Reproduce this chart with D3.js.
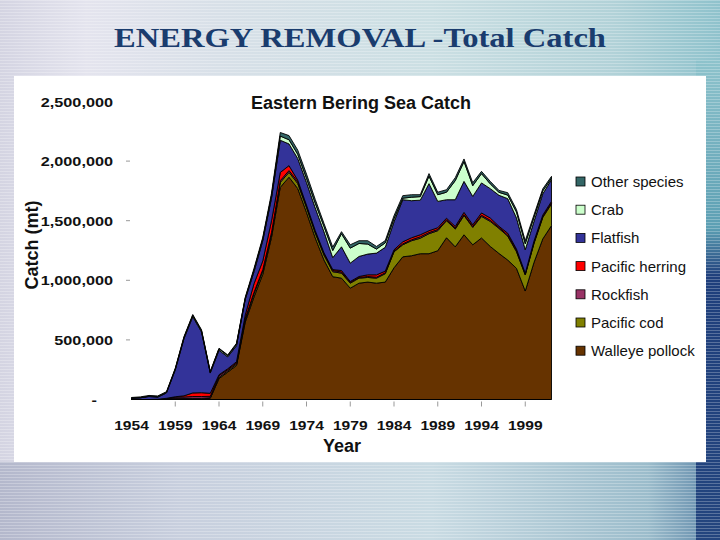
<!DOCTYPE html>
<html>
<head>
<meta charset="utf-8">
<script src="https://cdn.jsdelivr.net/npm/d3@7/dist/d3.min.js"></script>
<style>
  body { margin: 0; background: #fff; }
</style>
</head>
<body>
<div id="chart"></div>
<script type="text/javascript">
// catch in thousand metric tons
var years = [1954,1955,1956,1957,1958,1959,1960,1961,1962,1963,
             1964,1965,1966,1967,1968,1969,1970,1971,1972,1973,
             1974,1975,1976,1977,1978,1979,1980,1981,1982,1983,
             1984,1985,1986,1987,1988,1989,1990,1991,1992,1993,
             1994,1995,1996,1997,1998,1999,2000,2001,2002];

var pollock  = [0,0,0,0,3,8,5,5,5,10, 175,230,285,650,860,1050,1360,1780,1865,1770,
                1570,1355,1170,1030,1018,934,976,985,976,985, 1105,1197,1206,1223,1223,1248,1357,1281,1382,1298,
                1355,1284,1225,1170,1100,910,1150,1347,1459];
var cod      = [0,0,0,0,2,3,4,5,5,5, 10,10,12,20,28,28,27,41,41,42,
                41,42,41,42,42,42,42,39,42,70, 134,101,126,130,168,168,143,149,162,146,
                181,210,210,200,140,135,160,180,182];
var rockfish = [0,0,0,2,5,10,12,15,15,12, 15,10,10,10,12,12,15,15,15,15,
                12,12,12,10,10,6,6,8,8,8, 7,8,8,12,10,10,8,8,8,8,
                10,10,8,10,10,8,8,8,10];
var herring  = [0,0,0,0,0,2,10,30,32,25, 8,8,10,30,72,72,97,69,41,13,
                8,8,8,8,12,8,8,14,20,14, 10,17,17,17,15,15,13,14,18,14,
                19,19,10,15,12,7,12,12,11];
var flatfish = [12,14,25,18,45,225,480,640,510,170, 205,100,135,130,100,170,190,270,182,182,
                190,190,176,100,199,154,168,174,182,200, 235,353,311,290,395,221,155,224,260,238,
                252,246,260,290,261,197,165,178,183];
var crab     = [0,2,3,4,5,8,10,10,10,8, 12,10,12,10,15,14,20,35,35,35,
                35,40,45,60,110,126,109,84,34,37, 26,13,29,30,63,56,63,160,166,90,
                78,40,25,30,50,50,35,25,12];
var other    = [5,6,6,6,6,6,7,8,8,6, 5,6,8,8,13,14,22,30,35,35,
                35,31,25,29,17,28,23,28,22,19, 25,21,21,16,21,21,21,25,22,25,
                19,21,16,20,20,25,20,17,15];

var seriesKeys   = ["pollock","cod","rockfish","herring","flatfish","crab","other"];
var seriesNames  = ["Walleye pollock","Pacific cod","Rockfish","Pacific herring","Flatfish","Crab","Other species"];
var seriesColors = ["#663300","#808000","#993366","#ff0000","#333399","#ccffcc","#336666"];

var xTicks = [1954,1959,1964,1969,1974,1979,1984,1989,1994,1999];
var yTicks = [0,500,1000,1500,2000,2500];

var svg = d3.select("#chart").append("svg")
    .attr("width", 720)
    .attr("height", 540);

// --- slide background ---
var defs = svg.append("defs");
var bg = defs.append("linearGradient").attr("id", "bg").attr("x1", 0).attr("x2", 1).attr("y1", 0).attr("y2", 0);
bg.append("stop").attr("offset", 0).attr("stop-color", "#d4d4e2");
bg.append("stop").attr("offset", 0.12).attr("stop-color", "#e4e4ee");
bg.append("stop").attr("offset", 0.3).attr("stop-color", "#d8e0e8");
bg.append("stop").attr("offset", 0.6).attr("stop-color", "#cbdfe3");
bg.append("stop").attr("offset", 0.85).attr("stop-color", "#b2d2d8");
bg.append("stop").attr("offset", 1).attr("stop-color", "#8fc2cc");

var side = defs.append("linearGradient").attr("id", "side").attr("x1", 0).attr("x2", 0).attr("y1", 0).attr("y2", 1);
side.append("stop").attr("offset", 0).attr("stop-color", "#8ec3cc");
side.append("stop").attr("offset", 0.35).attr("stop-color", "#5c9fb3");
side.append("stop").attr("offset", 0.45).attr("stop-color", "#1f3f7c");
side.append("stop").attr("offset", 1).attr("stop-color", "#23457e");

var foot = defs.append("linearGradient").attr("id", "foot").attr("x1", 0).attr("x2", 1).attr("y1", 0).attr("y2", 0);
foot.append("stop").attr("offset", 0).attr("stop-color", "#b4b8cc");
foot.append("stop").attr("offset", 0.25).attr("stop-color", "#c8cfde");
foot.append("stop").attr("offset", 0.6).attr("stop-color", "#c9dbe3");
foot.append("stop").attr("offset", 0.9).attr("stop-color", "#9bbccb");
foot.append("stop").attr("offset", 1).attr("stop-color", "#5d86a8");

var stripes = defs.append("pattern").attr("id", "stripes")
    .attr("width", 4).attr("height", 3).attr("patternUnits", "userSpaceOnUse");
stripes.append("rect").attr("width", 4).attr("height", 1).attr("fill", "#ffffff").attr("opacity", 0.25);

svg.append("rect").attr("width", 720).attr("height", 540).attr("fill", "url(#bg)");
svg.append("rect").attr("x", 0).attr("y", 462).attr("width", 720).attr("height", 78).attr("fill", "url(#foot)");
svg.append("rect").attr("x", 696).attr("y", 60).attr("width", 24).attr("height", 480).attr("fill", "url(#side)");
svg.append("rect").attr("width", 720).attr("height", 540).attr("fill", "url(#stripes)");

svg.append("text")
    .attr("x", 360).attr("y", 47)
    .attr("text-anchor", "middle")
    .attr("textLength", 492).attr("lengthAdjust", "spacingAndGlyphs")
    .style("font-family", "'Liberation Serif', 'Times New Roman', serif")
    .style("font-size", "28px")
    .style("font-weight", "bold")
    .attr("fill", "#1a3c6e")
    .text("ENERGY REMOVAL -Total Catch");

// white chart panel
svg.append("rect").attr("x", 14).attr("y", 76).attr("width", 692).attr("height", 386).attr("fill", "#ffffff");

// --- chart ---
var x = d3.scaleLinear().domain([1954, 2002]).range([131.5, 551.5]);
var y = d3.scaleLinear().domain([0, 2500]).range([399.5, 101.5]);

var table = years.map(function(yr, i) {
  return { year: yr, pollock: pollock[i], cod: cod[i], rockfish: rockfish[i], herring: herring[i],
           flatfish: flatfish[i], crab: crab[i], other: other[i] };
});

var stacked = d3.stack().keys(seriesKeys)(table);

var area = d3.area()
    .x(function(d) { return x(d.data.year); })
    .y0(function(d) { return y(d[0]); })
    .y1(function(d) { return y(d[1]); });

var plot = svg.append("g");
plot.selectAll("path.layer")
    .data(stacked)
  .enter().append("path")
    .attr("class", "layer")
    .attr("d", area)
    .attr("fill", function(d, i) { return seriesColors[i]; })
    .attr("stroke", "#000")
    .attr("stroke-width", 0.9)
    .attr("stroke-linejoin", "round");

// baseline
svg.append("line")
    .attr("x1", x(1954)).attr("x2", x(2002))
    .attr("y1", y(0)).attr("y2", y(0))
    .attr("stroke", "#000").attr("stroke-width", 1.2);

var axisFont = "Arial, 'Liberation Sans', sans-serif";

// x axis ticks + labels
var xg = svg.append("g");
xg.selectAll("line.xt")
    .data(xTicks.slice(1))
  .enter().append("line")
    .attr("class", "xt")
    .attr("x1", function(d) { return x(d); }).attr("x2", function(d) { return x(d); })
    .attr("y1", y(0) + 2).attr("y2", y(0) + 7)
    .attr("stroke", "#999").attr("stroke-width", 1);
xg.selectAll("text.xl")
    .data(xTicks)
  .enter().append("text")
    .attr("class", "xl")
    .attr("transform", function(d) { return "translate(" + x(d) + ",430) scale(1.2,1)"; })
    .attr("text-anchor", "middle")
    .style("font-family", axisFont).style("font-size", "13px").style("font-weight", "bold")
    .attr("fill", "#111")
    .text(function(d) { return d; });

// y axis ticks + labels
var fmt = d3.format(",");
var yg = svg.append("g");
yg.selectAll("line.yt")
    .data(yTicks.slice(1, 5))
  .enter().append("line")
    .attr("class", "yt")
    .attr("x1", 126).attr("x2", 130)
    .attr("y1", function(d) { return y(d); }).attr("y2", function(d) { return y(d); })
    .attr("stroke", "#999").attr("stroke-width", 1);
yg.selectAll("text.yl")
    .data(yTicks)
  .enter().append("text")
    .attr("class", "yl")
    .attr("transform", function(d) { return "translate(" + (d === 0 ? 97 : 113) + "," + (y(d) + 5) + ") scale(1.3,1)"; })
    .attr("text-anchor", "end")
    .style("font-family", axisFont).style("font-size", "12.5px").style("font-weight", "bold")
    .attr("fill", "#111")
    .text(function(d) { return d === 0 ? "-" : fmt(d * 1000); });

// titles
svg.append("text")
    .attr("x", 361).attr("y", 109)
    .attr("text-anchor", "middle")
    .style("font-family", axisFont).style("font-size", "18px").style("font-weight", "bold")
    .attr("fill", "#111")
    .text("Eastern Bering Sea Catch");

svg.append("text")
    .attr("x", 342).attr("y", 452)
    .attr("text-anchor", "middle")
    .style("font-family", axisFont).style("font-size", "18px").style("font-weight", "bold")
    .attr("fill", "#111")
    .text("Year");

svg.append("text")
    .attr("transform", "translate(38,245) rotate(-90)")
    .attr("text-anchor", "middle")
    .style("font-family", axisFont).style("font-size", "18px").style("font-weight", "bold")
    .attr("fill", "#111")
    .text("Catch (mt)");

// legend, top entry is the top layer
var legendItems = seriesKeys.map(function(k, i) {
  return { name: seriesNames[i], color: seriesColors[i] };
}).reverse();

var legend = svg.append("g").attr("transform", "translate(576,177)");
var rows = legend.selectAll("g.row")
    .data(legendItems)
  .enter().append("g")
    .attr("class", "row")
    .attr("transform", function(d, i) { return "translate(0," + (i * 28.2) + ")"; });
rows.append("rect")
    .attr("width", 9).attr("height", 9)
    .attr("fill", function(d) { return d.color; })
    .attr("stroke", "#000").attr("stroke-width", 0.8);
rows.append("text")
    .attr("x", 15).attr("y", 10)
    .style("font-family", axisFont).style("font-size", "15px")
    .attr("fill", "#111")
    .text(function(d) { return d.name; });
</script>
</body>
</html>
